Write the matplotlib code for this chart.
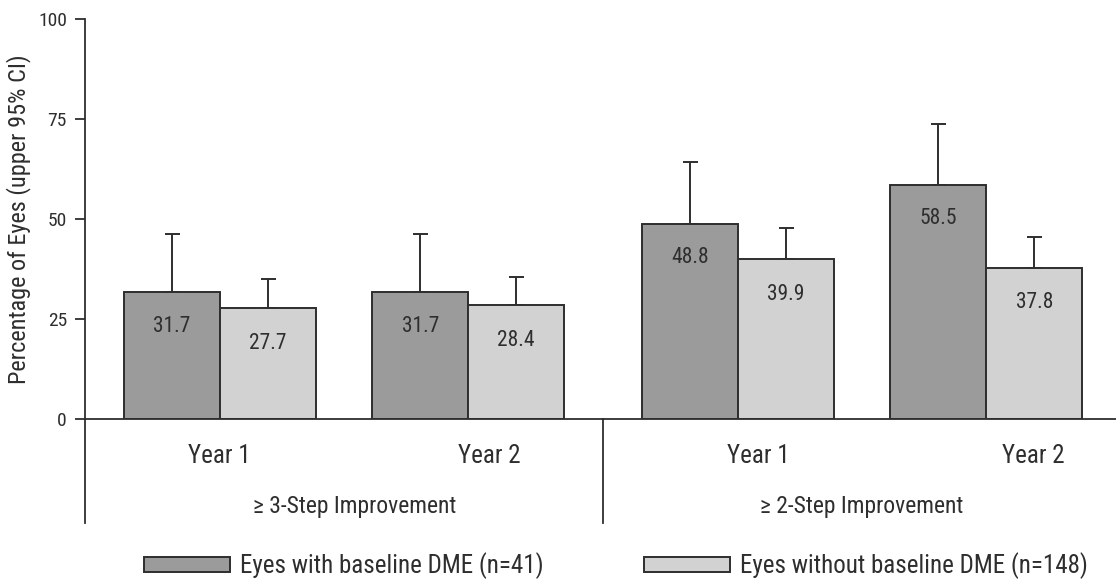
import numpy as np
import matplotlib
matplotlib.use("Agg")
import matplotlib.pyplot as plt
from matplotlib.patches import Patch

plt.rcParams["font.family"] = ["Roboto Condensed", "DejaVu Sans"]

# data
years = ["Year 1", "Year 2", "Year 1", "Year 2"]
groups = ["\u2265 3-Step Improvement", "\u2265 2-Step Improvement"]
with_dme = np.array([31.7, 31.7, 48.8, 58.5])
with_dme_upper = np.array([46.2, 46.3, 64.2, 73.7])
without_dme = np.array([27.7, 28.4, 39.9, 37.8])
without_dme_upper = np.array([34.9, 35.4, 47.7, 45.5])
legend_labels = ["Eyes with baseline DME (n=41)", "Eyes without baseline DME (n=148)"]

dark = "#9b9b9b"
light = "#d2d2d2"
ink = "#2e2e2e"

fig = plt.figure(figsize=(11.16, 5.82), dpi=100)
ax = fig.add_axes([85 / 1116, 163 / 582, 1 - 85 / 1116, 400 / 582])

# two categories per half, each half two units wide
half = np.repeat([0, 2], 2)
x = half + np.tile([0.52, 1.48], 2)
w = 0.37

ax.bar(x - w / 2, with_dme, w, color=dark, edgecolor=ink, linewidth=1.4, zorder=2)
ax.bar(x + w / 2, without_dme, w, color=light, edgecolor=ink, linewidth=1.4, zorder=2)

ax.errorbar(x - w / 2, with_dme, yerr=[np.zeros(4), with_dme_upper - with_dme],
            fmt="none", ecolor=ink, elinewidth=1.4, capsize=5.4, capthick=1.4, zorder=1)
ax.errorbar(x + w / 2, without_dme, yerr=[np.zeros(4), without_dme_upper - without_dme],
            fmt="none", ecolor=ink, elinewidth=1.4, capsize=5.4, capthick=1.4, zorder=1)

for xi, v in zip(x - w / 2, with_dme):
    ax.text(xi, v - 8.5, f"{v:.1f}", ha="center", va="center", fontsize=15.5, color=ink)
for xi, v in zip(x + w / 2, without_dme):
    ax.text(xi, v - 8.8, f"{v:.1f}", ha="center", va="center", fontsize=15.5, color=ink)

ax.set_xlim(0, 1031 / 259)
ax.set_ylim(0, 100)
ax.set_yticks([0, 25, 50, 75, 100])
ax.tick_params(axis="y", direction="out", length=7, width=1.3, color=ink,
               labelsize=14, labelcolor=ink, pad=6)
ax.set_xticks([])
for s in ["top", "right"]:
    ax.spines[s].set_visible(False)
ax.spines["left"].set_bounds(-26, 100)
ax.spines["left"].set_color(ink)
ax.spines["left"].set_linewidth(1.3)
ax.spines["bottom"].set_color(ink)
ax.spines["bottom"].set_linewidth(1.3)

# divider between the two improvement groups
ax.plot([2, 2], [0, -26], color=ink, linewidth=1.3, clip_on=False)

ax.set_ylabel("Percentage of Eyes (upper 95% CI)", fontsize=17.5, color=ink, labelpad=5)

year_pos = half + np.tile([0.52, 1.56], 2) + np.array([0, 0, 0.08, 0.1])
for xp, lab in zip(year_pos, years):
    ax.text(xp, -9.3, lab, ha="center", va="center", fontsize=18, color=ink)
for xp, lab in zip([1.04, 3.0], groups):
    ax.text(xp, -22, lab, ha="center", va="center", fontsize=17, color=ink)

handles = [Patch(facecolor=dark, edgecolor=ink, linewidth=1.4),
           Patch(facecolor=light, edgecolor=ink, linewidth=1.4)]
fig.legend(handles, legend_labels, loc="center left", bbox_to_anchor=(144 / 1116, 1 - 566 / 582),
           ncol=2, frameon=False, fontsize=18, handlelength=3.44, handleheight=0.56,
           handletextpad=0.4, columnspacing=4.0, borderpad=0, borderaxespad=0,
           labelcolor=ink)

fig.savefig("out.png", dpi=100)
